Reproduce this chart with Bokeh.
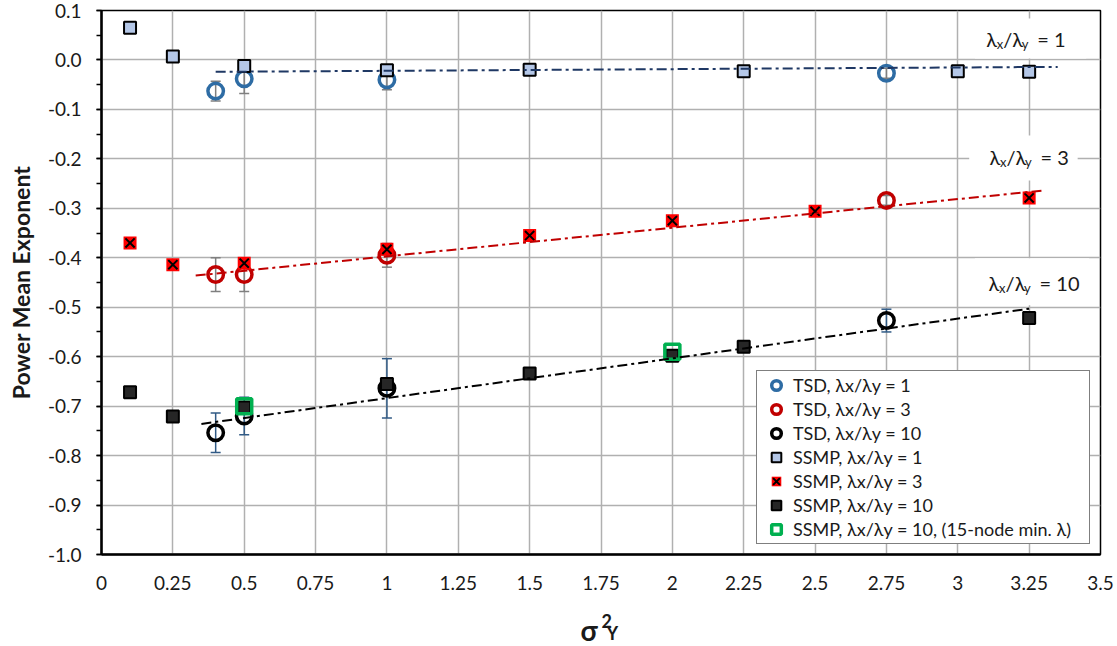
from bokeh.plotting import figure
from bokeh.layouts import column
from bokeh.models import (Range1d, FixedTicker, Whisker, TeeHead, ColumnDataSource,
                          Legend, LegendItem, Label, CustomJSTickFormatter)
from bokeh.embed import file_html
from bokeh.resources import INLINE

FONT = "Lato"

# ---- TSD results (mean exponent with error bars) ----
tsd_x = [0.4, 0.5, 1.0, 2.75]
tsd1_y = [-0.063, -0.038, -0.040, -0.027]
tsd1_err = [0.020, 0.030, 0.020, 0.010]
tsd3_y = [-0.434, -0.434, -0.395, -0.284]
tsd3_err = [0.034, 0.034, 0.024, 0.010]
tsd10_y = [-0.754, -0.720, -0.664, -0.527]
tsd10_err = [0.040, 0.038, 0.060, 0.023]

# ---- SSMP results ----
ssmp1_x = [0.1, 0.25, 0.5, 1.0, 1.5, 2.25, 3.0, 3.25]
ssmp1_y = [0.065, 0.007, -0.012, -0.021, -0.020, -0.023, -0.023, -0.024]
ssmp3_x = [0.1, 0.25, 0.5, 1.0, 1.5, 2.0, 2.5, 3.25]
ssmp3_y = [-0.370, -0.414, -0.411, -0.383, -0.355, -0.325, -0.306, -0.279]
ssmp10_x = [0.1, 0.25, 0.5, 1.0, 1.5, 2.0, 2.25, 3.25]
ssmp10_y = [-0.672, -0.721, -0.703, -0.655, -0.634, -0.598, -0.580, -0.522]
ssmp10_15_x = [0.5, 2.0]
ssmp10_15_y = [-0.700, -0.590]

# ---- linear trend lines (end points) ----
trend1_x = [0.40, 3.35]
trend1_y = [-0.024, -0.014]
trend3_x = [0.33, 3.30]
trend3_y = [-0.436, -0.264]
trend10_x = [0.35, 3.25]
trend10_y = [-0.736, -0.503]

# ---- axis ticks ----
x_ticks = [0.0, 0.25, 0.5, 0.75, 1.0, 1.25, 1.5, 1.75, 2.0, 2.25, 2.5, 2.75, 3.0, 3.25, 3.5]
x_tick_labels = ["0", "0.25", "0.5", "0.75", "1", "1.25", "1.5", "1.75", "2", "2.25",
                 "2.5", "2.75", "3", "3.25", "3.5"]
y_ticks = [0.1, 0.0, -0.1, -0.2, -0.3, -0.4, -0.5, -0.6, -0.7, -0.8, -0.9, -1.0]
y_tick_labels = ["0.1", "0.0", "-0.1", "-0.2", "-0.3", "-0.4", "-0.5", "-0.6", "-0.7",
                 "-0.8", "-0.9", "-1.0"]
y_minor = [round(0.1 - 0.05 * i, 2) for i in range(23)]

TEXT = "#1a1a1a"

p = figure(width=1117, height=596, output_backend="svg", toolbar_location=None,
           x_range=Range1d(0, 3.5), y_range=Range1d(-1.0, 0.1),
           min_border_left=101, min_border_right=17, min_border_top=10, min_border_bottom=42,
           background_fill_color="white", border_fill_color="white")

p.outline_line_color = "black"
p.outline_line_width = 1.5

GRID = "#b0b0b0"
p.xgrid.grid_line_color = GRID
p.xgrid.grid_line_width = 1.5
p.ygrid.grid_line_color = GRID
p.ygrid.grid_line_width = 1.5

xax = p.xaxis[0]
xax.ticker = FixedTicker(ticks=x_ticks)
xax.formatter = CustomJSTickFormatter(code="return tick.toString()")
xax.major_label_overrides = {t: l for t, l in zip(x_ticks, x_tick_labels)}
xax.major_tick_out = 0
xax.major_tick_in = 0
xax.minor_tick_out = 0
xax.minor_tick_in = 0
xax.axis_line_color = "black"
xax.axis_line_width = 2.5
xax.major_label_standoff = 21
xax.major_label_text_font = FONT
xax.major_label_text_font_size = "19px"
xax.major_label_text_color = TEXT

yax = p.yaxis[0]
yax.ticker = FixedTicker(ticks=y_ticks, minor_ticks=y_minor)
yax.formatter = CustomJSTickFormatter(code="return tick.toFixed(1)")
yax.major_label_overrides = {t: l for t, l in zip(y_ticks, y_tick_labels)}
yax.major_tick_out = 5
yax.major_tick_in = 0
yax.minor_tick_out = 5
yax.minor_tick_in = 0
yax.major_tick_line_width = 1.5
yax.minor_tick_line_width = 1.5
yax.axis_line_color = "black"
yax.axis_line_width = 2.5
yax.major_label_standoff = 15
yax.major_label_text_font = FONT
yax.major_label_text_font_size = "19px"
yax.major_label_text_color = TEXT
yax.axis_label = "Power Mean Exponent"
yax.axis_label_text_font = FONT
yax.axis_label_text_font_style = "bold"
yax.axis_label_text_font_size = "23px"
yax.axis_label_text_color = TEXT
yax.axis_label_standoff = 10

# white backing boxes behind the ratio annotations (hide the grid there)
p.quad(left=[3.06, 3.04, 3.06], right=[3.45, 3.42, 3.46],
       top=[0.084, -0.153, -0.401], bottom=[0.003, -0.244, -0.496],
       fill_color="white", line_color=None)

# ---- error bars on TSD values ----
def add_errors(ys, errs, color):
    src = ColumnDataSource(dict(x=tsd_x,
                                upper=[y + e for y, e in zip(ys, errs)],
                                lower=[y - e for y, e in zip(ys, errs)]))
    w = Whisker(source=src, base="x", upper="upper", lower="lower",
                line_color=color, line_width=1.5,
                upper_head=TeeHead(size=10, line_color=color, line_width=1.5),
                lower_head=TeeHead(size=10, line_color=color, line_width=1.5))
    p.add_layout(w)

add_errors(tsd1_y, tsd1_err, "#7f7f7f")
add_errors(tsd3_y, tsd3_err, "#7f7f7f")
add_errors(tsd10_y, tsd10_err, "#305a85")

BLUE = "#2e6ca4"
RED = "#c00000"

r_tsd1 = p.scatter(tsd_x, tsd1_y, marker="circle", size=15.5, fill_alpha=0,
                   line_color=BLUE, line_width=3.5)
r_tsd3 = p.scatter(tsd_x, tsd3_y, marker="circle", size=15.5, fill_alpha=0,
                   line_color=RED, line_width=3.5)
r_tsd10 = p.scatter(tsd_x, tsd10_y, marker="circle", size=15.5, fill_alpha=0,
                    line_color="black", line_width=3.5)

r_ss1 = p.scatter(ssmp1_x, ssmp1_y, marker="square", size=12, fill_color="#b4c7e7",
                  line_color="black", line_width=2)
r_ss3a = p.scatter(ssmp3_x, ssmp3_y, marker="square", size=13, fill_color="#ff0000",
                   line_color=None)
r_ss3b = p.scatter(ssmp3_x, ssmp3_y, marker="x", size=13, line_color="black", line_width=2)
r_ss10 = p.scatter(ssmp10_x, ssmp10_y, marker="square", size=12, fill_color="#262626",
                   line_color="black", line_width=2)
r_ss15 = p.scatter(ssmp10_15_x, ssmp10_15_y, marker="square", size=15, fill_alpha=0,
                   line_color="#00b050", line_width=3.5)

DASH = "10 4 3 4"
p.line(trend1_x, trend1_y, line_color="#1f3864", line_width=2, line_dash=DASH)
p.line(trend3_x, trend3_y, line_color=RED, line_width=2, line_dash=DASH)
p.line(trend10_x, trend10_y, line_color="black", line_width=2, line_dash=DASH)

legend = Legend(items=[
    LegendItem(label="TSD, λx/λy = 1", renderers=[r_tsd1]),
    LegendItem(label="TSD, λx/λy = 3", renderers=[r_tsd3]),
    LegendItem(label="TSD, λx/λy = 10", renderers=[r_tsd10]),
    LegendItem(label="SSMP, λx/λy = 1", renderers=[r_ss1]),
    LegendItem(label="SSMP, λx/λy = 3", renderers=[r_ss3a, r_ss3b]),
    LegendItem(label="SSMP, λx/λy = 10", renderers=[r_ss10]),
    LegendItem(label="SSMP, λx/λy = 10, (15-node min. λ)", renderers=[r_ss15]),
], location="bottom_right", margin=10, padding=2, spacing=0,
   glyph_width=34, glyph_height=24, label_height=24, label_width=294, label_standoff=0,
   label_text_font=FONT, label_text_font_size="18px", label_text_color=TEXT,
   border_line_color="black", border_line_width=1,
   background_fill_color="white", background_fill_alpha=1)
p.add_layout(legend)


def rich_text(fig, x, y, parts, bold=False):
    """Place a run of text pieces: (text, dx, dy, size), offsets in pixels."""
    for text, dx, dy, size in parts:
        fig.add_layout(Label(x=x, y=y, x_offset=dx, y_offset=dy, text=text,
                             text_font=FONT, text_font_size=f"{size}px",
                             text_font_style="bold" if bold else "normal",
                             text_color=TEXT, text_align="left",
                             text_baseline="alphabetic"))


def ratio_label(x, y, ratio):
    rich_text(p, x, y, [("λ", 0, 0, 20), ("x", 10.5, -5, 13), ("/λ", 17, 0, 20),
                        ("y", 35.5, -5, 13), ("= " + ratio, 51, 0, 20)])


ratio_label(3.100, 0.043, "1")
ratio_label(3.111, -0.197, "3")
ratio_label(3.108, -0.450, "10")

# strip under the chart carrying the x-axis title (sigma squared, subscript Y)
t = figure(width=1117, height=50, output_backend="svg", toolbar_location=None,
           x_range=p.x_range, y_range=Range1d(0, 50),
           min_border_left=101, min_border_right=17, min_border_top=0, min_border_bottom=0,
           background_fill_color="white", border_fill_color="white", outline_line_color=None)
t.axis.visible = False
t.grid.visible = False
rich_text(t, 1.678, 17, [("σ", 0, 0, 28), ("2", 21, 9, 18), ("Y", 26, -3, 18)], bold=True)

open("out.html", "w").write(file_html(column(p, t, spacing=0), INLINE))
